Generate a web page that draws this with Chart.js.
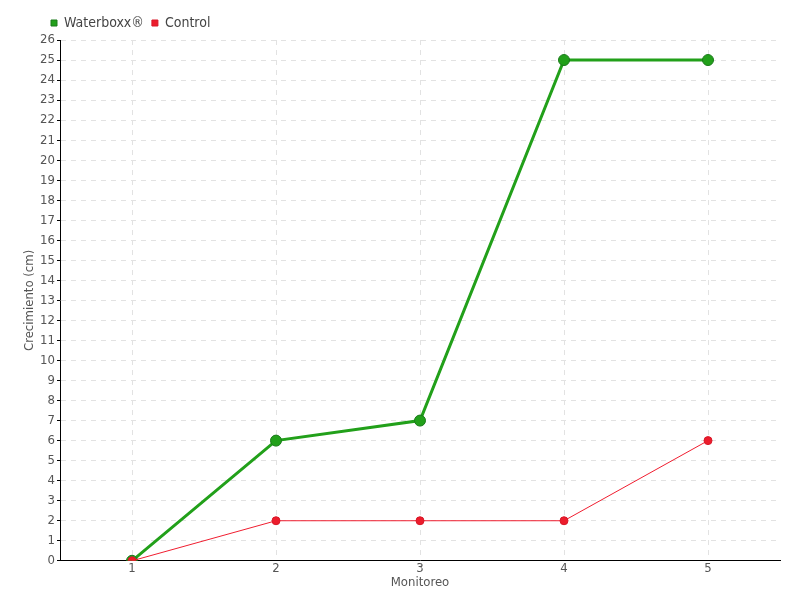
<!DOCTYPE html>
<html>
<head>
<meta charset="utf-8">
<script src="https://cdn.jsdelivr.net/npm/chart.js@4.4.0/dist/chart.umd.min.js"></script>
<style>
  html, body { margin: 0; padding: 0; background: #fff; }
  #wrap { width: 800px; height: 600px; }
</style>
</head>
<body>
<div id="wrap"><canvas id="growth-canvas" width="800" height="600"></canvas></div>
<script>
// Datos del gráfico
const monitoreos = ['1', '2', '3', '4', '5'];
const waterboxx = [0, 6, 7, 25, 25];
const control = [0, 2, 2, 2, 6];

const ctx = document.getElementById('growth-canvas').getContext('2d');
const fuente = "'DejaVu Sans Condensed', 'Liberation Sans Narrow', sans-serif";

// Mueve la leyenda a la derecha sin tocar el área del gráfico
const moverLeyenda = {
  id: 'moverLeyenda',
  beforeDraw(chart) {
    if (chart.legend && !chart.legend._movida) {
      chart.legend.left += 21;
      chart.legend.right += 21;
      chart.legend._movida = true;
    }
  }
};

window.growthChart = new Chart(ctx, {
  type: 'line',
  data: {
    labels: monitoreos,
    datasets: [{
      label: 'Waterboxx®',
      data: waterboxx,
      order: 1,
      borderColor: '#22a01a',
      backgroundColor: '#22a01a',
      pointBorderColor: '#1a7a1a',
      borderWidth: 3,
      pointRadius: 5.5,
      pointBorderWidth: 1,
      tension: 0
    }, {
      label: 'Control',
      data: control,
      order: 0, // la serie control queda encima
      borderColor: '#f01e30',
      backgroundColor: '#ec1c2c',
      pointBorderColor: '#d81828',
      borderWidth: 1,
      pointRadius: 4,
      pointBorderWidth: 1,
      tension: 0
    }]
  },
  plugins: [moverLeyenda],
  options: {
    responsive: false,
    animation: false,
    layout: { padding: { left: 22, right: 20, top: 8, bottom: 0 } },
    plugins: {
      legend: {
        align: 'start',
        labels: {
          usePointStyle: true,
          pointStyle: 'rect',
          boxWidth: 6,
          boxHeight: 6,
          padding: 8,
          color: '#444',
          font: { family: fuente, size: 14 },
          sort: (a, b) => a.datasetIndex - b.datasetIndex
        }
      },
      tooltip: { enabled: false }
    },
    scales: {
      x: {
        offset: true,
        grid: {
          offset: false,
          color: '#e2e2e2',
          drawTicks: false
        },
        border: { color: '#000', width: 1, dash: [5, 5] },
        ticks: { color: '#555', padding: 0, font: { family: fuente, size: 13 } },
        title: {
          display: true,
          text: 'Monitoreo',
          color: '#555',
          padding: { top: -2, bottom: 10 },
          font: { family: fuente, size: 13 }
        }
      },
      y: {
        min: 0,
        max: 26,
        grid: {
          color: '#e2e2e2',
          tickColor: '#000',
          tickLength: 3,
          tickBorderDash: [],
          tickBorderDashOffset: 0
        },
        border: { color: '#000', width: 1, dash: [5, 5] },
        ticks: {
          stepSize: 1,
          autoSkip: false,
          color: '#555',
          padding: 2,
          font: { family: fuente, size: 13 }
        },
        title: {
          display: true,
          text: 'Crecimiento (cm)',
          color: '#555',
          padding: { top: 0, bottom: 2 },
          font: { family: fuente, size: 13 }
        },
        afterFit(scale) {
          scale.width = 38;
        }
      }
    }
  }
});
</script>
</body>
</html>
